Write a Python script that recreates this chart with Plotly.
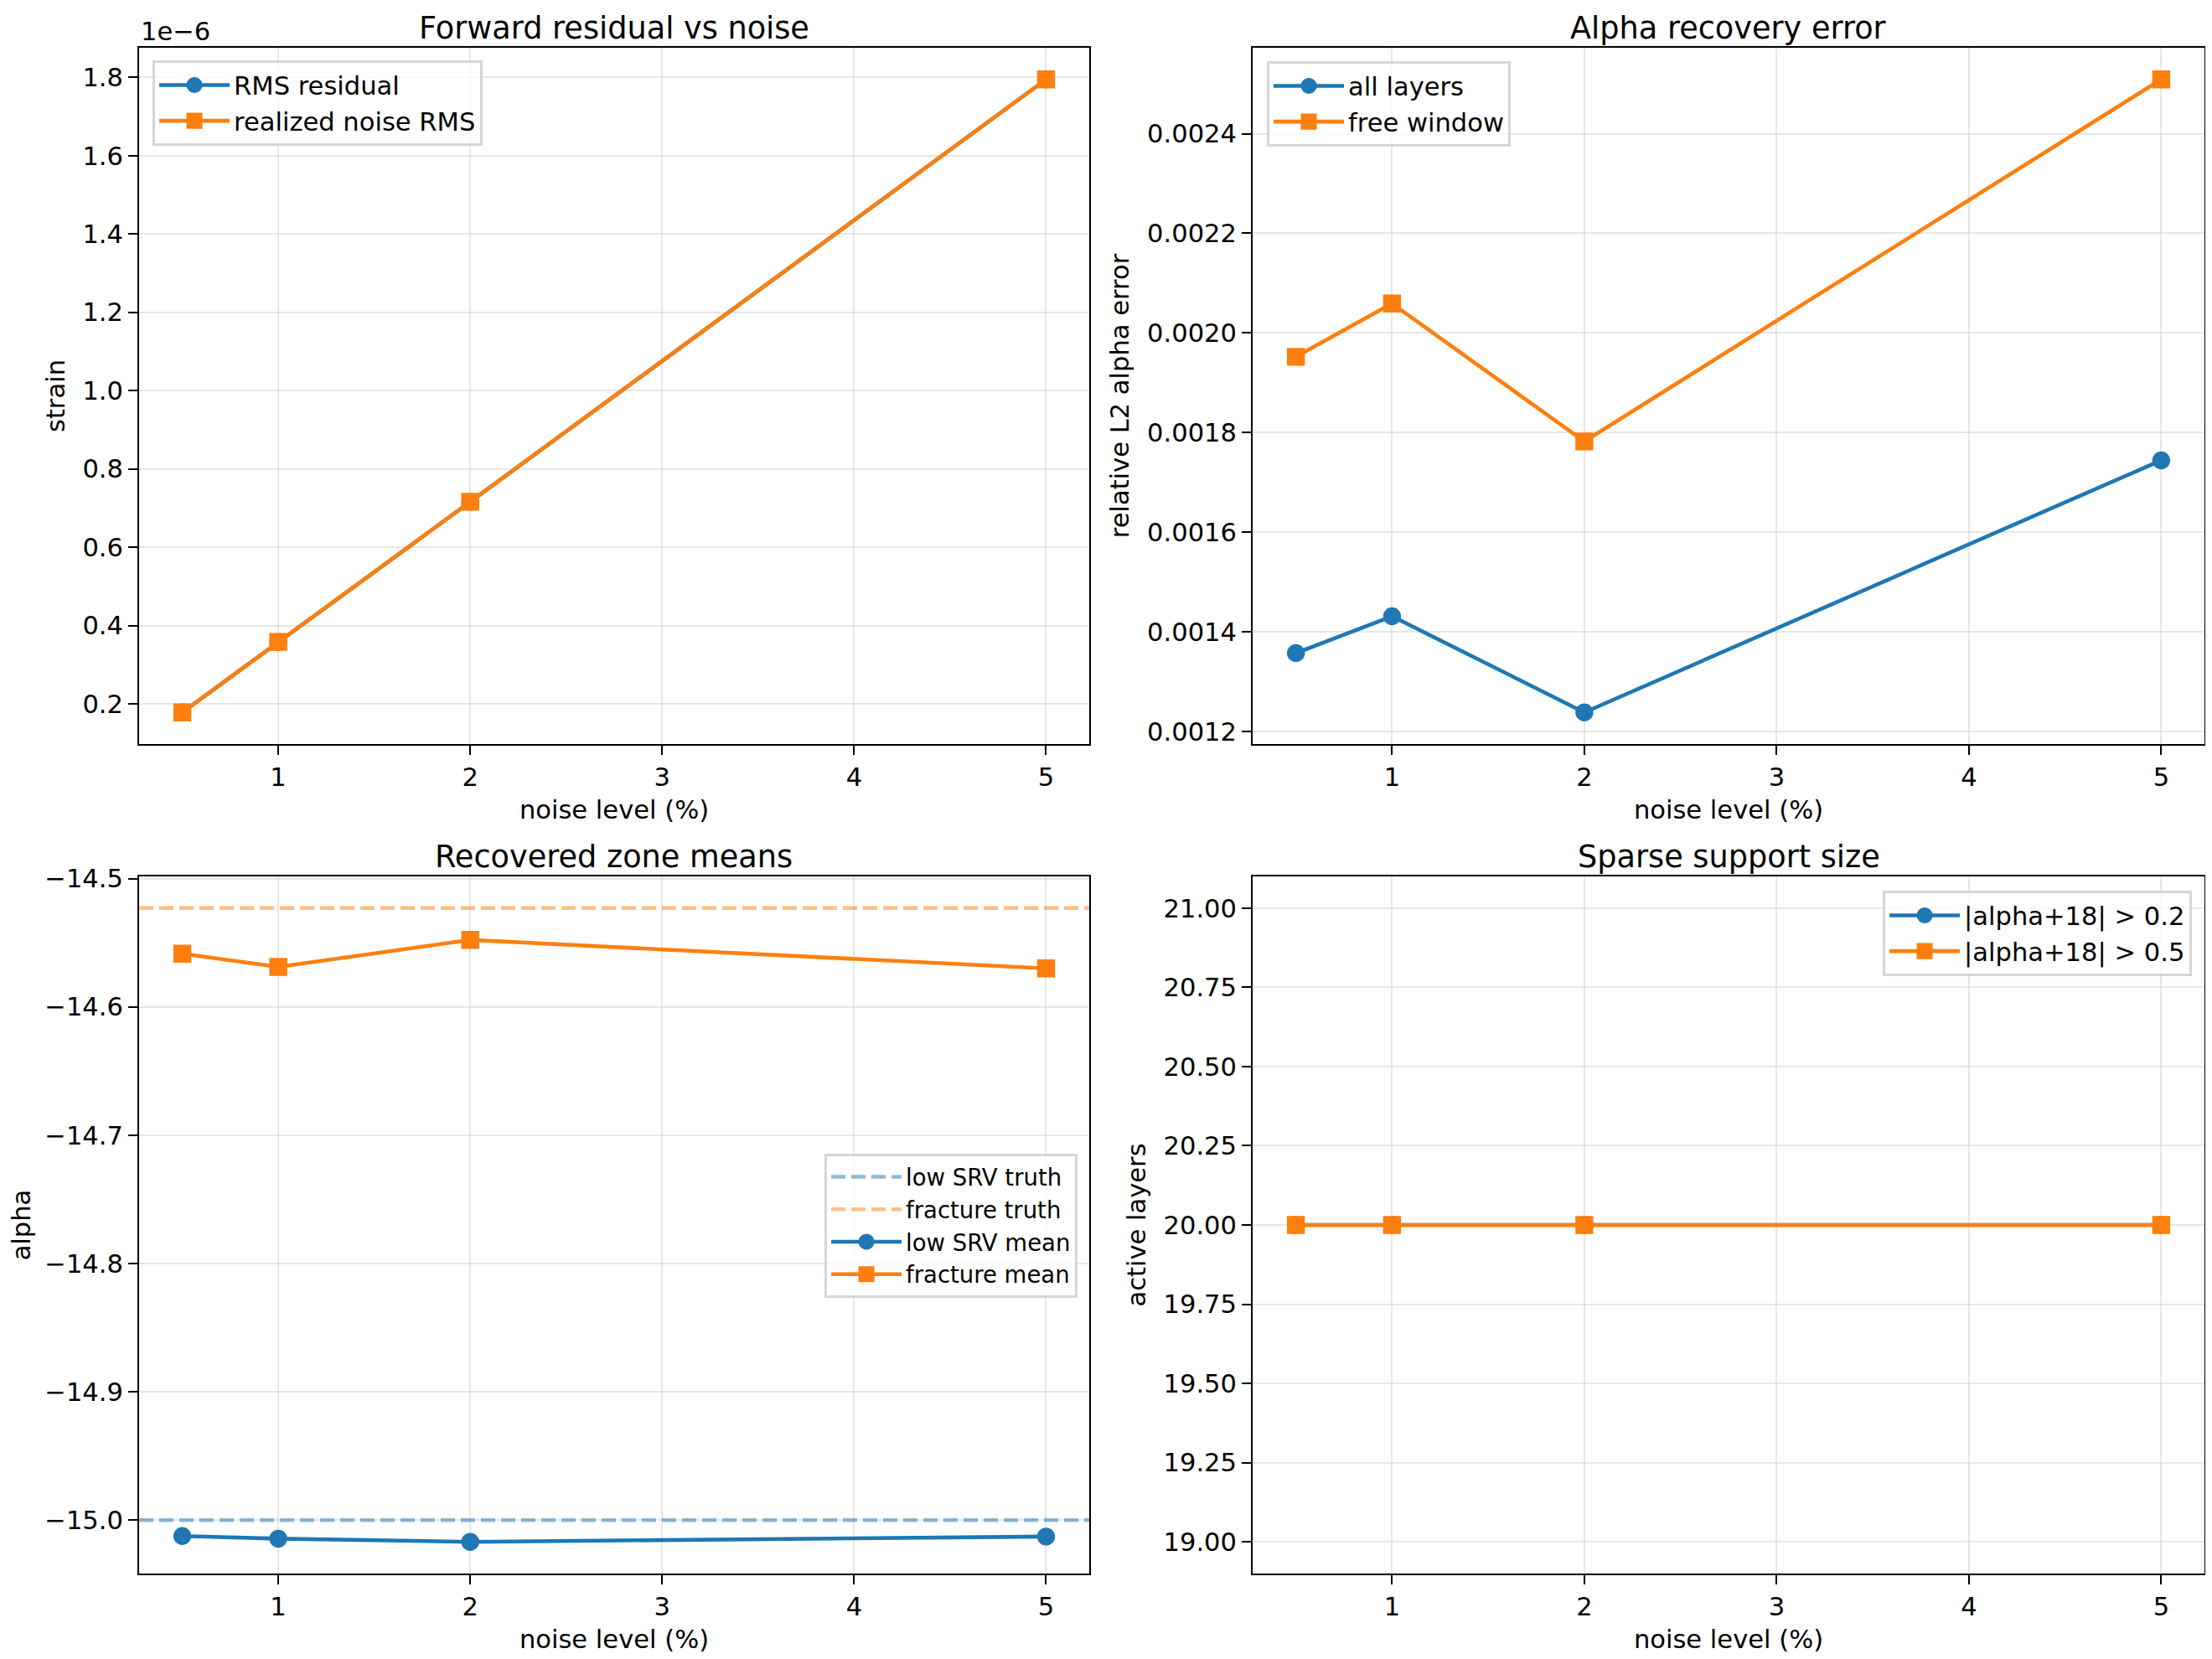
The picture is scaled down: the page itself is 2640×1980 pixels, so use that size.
import plotly.graph_objects as go
from plotly.subplots import make_subplots

# values
noise_pct = [0.5, 1, 2, 5]
rms_residual = [0.178e-6, 0.358e-6, 0.716e-6, 1.795e-6]
realized_noise_rms = [0.178e-6, 0.358e-6, 0.716e-6, 1.795e-6]
strain_ticks = [0.2e-6, 0.4e-6, 0.6e-6, 0.8e-6, 1.0e-6, 1.2e-6, 1.4e-6, 1.6e-6, 1.8e-6]
strain_tick_text = ["0.2", "0.4", "0.6", "0.8", "1.0", "1.2", "1.4", "1.6", "1.8"]

err_all_layers = [0.001357, 0.001431, 0.001238, 0.001744]
err_free_window = [0.001952, 0.002059, 0.001782, 0.002509]

low_srv_truth = -15.0
fracture_truth = -14.523
low_srv_mean = [-15.0124, -15.0144, -15.0169, -15.0128]
fracture_mean = [-14.5585, -14.5688, -14.5478, -14.5700]

active_02 = [20, 20, 20, 20]
active_05 = [20, 20, 20, 20]

C0 = "#1f77b4"
C1 = "#ff7f0e"
FONT = "DejaVu Sans"
W, H = 2640, 1980
PX = 220 / 72.0  # matplotlib points -> pixels at 220 dpi
LW = 1.5 * PX
MS = 6 * PX
XR = [0.275, 5.225]
OFF = 8  # page body margin


def px_x(p):
  return (p - OFF) / W


def px_y(p):
  return 1 - (p - OFF) / H


def padded(vals, frac=0.05):
  lo, hi = min(vals), max(vals)
  d = (hi - lo) * frac
  return [lo - d, hi + d]


fig = make_subplots(rows=2, cols=2)

# axes boxes in pixels (left, right, top, bottom)
boxes = {
  (1, 1): (166, 1300, 57, 888),
  (1, 2): (1495, 2631, 57, 888),
  (2, 1): (166, 1300, 1046, 1878),
  (2, 2): (1495, 2631, 1046, 1878),
}


def line(x, y, name, color, symbol, legend, row, col):
  fig.add_trace(
    go.Scatter(x=x, y=y, name=name, mode="lines+markers", legend=legend,
               line=dict(color=color, width=LW),
               marker=dict(symbol=symbol, size=MS, color=color,
                           line=dict(color=color, width=PX))),
    row=row, col=col,
  )


def truth(yv, name, color, legend, row, col):
  fig.add_trace(
    go.Scatter(x=XR, y=[yv, yv], name=name, mode="lines", legend=legend,
               opacity=0.5, line=dict(color=color, width=LW, dash="17px,7px")),
    row=row, col=col,
  )


line(noise_pct, rms_residual, "RMS residual", C0, "circle", "legend", 1, 1)
line(noise_pct, realized_noise_rms, "realized noise RMS", C1, "square", "legend", 1, 1)

line(noise_pct, err_all_layers, "all layers", C0, "circle", "legend2", 1, 2)
line(noise_pct, err_free_window, "free window", C1, "square", "legend2", 1, 2)

truth(low_srv_truth, "low SRV truth", C0, "legend3", 2, 1)
truth(fracture_truth, "fracture truth", C1, "legend3", 2, 1)
line(noise_pct, low_srv_mean, "low SRV mean", C0, "circle", "legend3", 2, 1)
line(noise_pct, fracture_mean, "fracture mean", C1, "square", "legend3", 2, 1)

line(noise_pct, active_02, "|alpha+18| > 0.2", C0, "circle", "legend4", 2, 2)
line(noise_pct, active_05, "|alpha+18| > 0.5", C1, "square", "legend4", 2, 2)

axis_style = dict(
  automargin=False,
  showline=True, linecolor="black", linewidth=0.8 * PX, mirror=True,
  ticks="outside", ticklen=3.5 * PX, tickwidth=0.8 * PX, tickcolor="black",
  showgrid=True, gridcolor="rgba(176,176,176,0.3)", gridwidth=0.8 * PX,
  zeroline=False, tickfont=dict(family=FONT, size=10 * PX, color="black"),
)
fig.update_xaxes(**axis_style)
fig.update_yaxes(**axis_style)

for (r, c), (l, rgt, t, b) in boxes.items():
  fig.update_xaxes(domain=[px_x(l), px_x(rgt)], range=XR, tickvals=[1, 2, 3, 4, 5],
                   title=dict(text="noise level (%)", standoff=12,
                              font=dict(family=FONT, size=10 * PX, color="black")),
                   row=r, col=c)
  fig.update_yaxes(domain=[px_y(b), px_y(t)], row=r, col=c)

ytitle = lambda s: dict(text=s, standoff=12, font=dict(family=FONT, size=10 * PX, color="black"))
fig.update_yaxes(range=padded(rms_residual + realized_noise_rms), tickvals=strain_ticks,
                 ticktext=strain_tick_text, title=ytitle("strain"), row=1, col=1)
fig.update_yaxes(range=padded(err_all_layers + err_free_window), dtick=0.0002,
                 tickformat=".4f", title=ytitle("relative L2 alpha error"), row=1, col=2)
fig.update_yaxes(range=padded(low_srv_mean + fracture_mean + [low_srv_truth, fracture_truth]),
                 dtick=0.1, tickformat=".1f", title=ytitle("alpha"), row=2, col=1)
fig.update_yaxes(range=[18.9, 21.1], dtick=0.25, tickformat=".2f",
                 title=ytitle("active layers"), row=2, col=2)

titles = {
  (1, 1): "Forward residual vs noise",
  (1, 2): "Alpha recovery error",
  (2, 1): "Recovered zone means",
  (2, 2): "Sparse support size",
}
for key, txt in titles.items():
  l, rgt, t, b = boxes[key]
  fig.add_annotation(text=txt, x=px_x((l + rgt) / 2), y=px_y(t), xref="paper", yref="paper",
                     xanchor="center", yanchor="bottom", yshift=0, showarrow=False,
                     font=dict(family=FONT, size=12 * PX, color="black"))

# matplotlib-style offset text
fig.add_annotation(text="1e\u22126", x=px_x(166), y=px_y(57), xref="paper", yref="paper",
                   xanchor="left", yanchor="bottom", yshift=0, showarrow=False,
                   font=dict(family=FONT, size=10 * PX, color="black"))

leg = dict(bgcolor="rgba(255,255,255,0.8)", bordercolor="rgba(204,204,204,0.8)",
           borderwidth=PX, itemwidth=84, xref="paper", yref="paper",
           font=dict(family=FONT, size=10 * PX, color="black"))
fig.update_layout(
  width=W, height=H,
  margin=dict(l=0, r=0, t=0, b=0, autoexpand=False),
  plot_bgcolor="white", paper_bgcolor="white",
  font=dict(family=FONT, size=10 * PX, color="black"),
  legend=dict(leg, x=px_x(182), y=px_y(72), xanchor="left", yanchor="top"),
  legend2=dict(leg, x=px_x(1512), y=px_y(73), xanchor="left", yanchor="top"),
  legend3=dict(leg, x=px_x(1286), y=px_y(1463), xanchor="right", yanchor="middle",
               font=dict(family=FONT, size=9 * PX, color="black")),
  legend4=dict(leg, x=px_x(2616), y=px_y(1063), xanchor="right", yanchor="top"),
)

fig.write_html("out.html")
